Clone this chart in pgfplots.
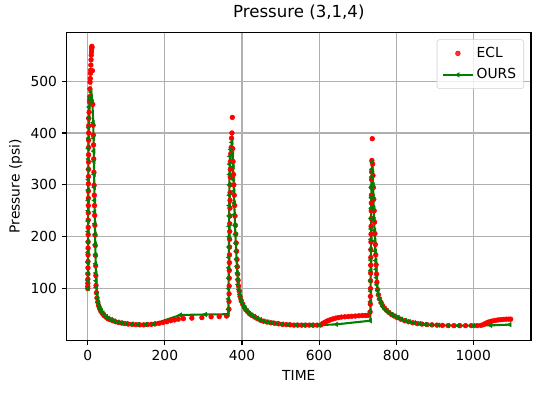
\documentclass[border=0pt]{standalone}
\usepackage{fontspec}
\setmainfont{DejaVu Sans}
\usepackage{pgfplots}
\pgfplotsset{compat=1.18}
\usepackage{pgfplotstable}

\pgfplotstableread{
t p
0.05 100
0.1 104
0.2 110
0.3 118
0.4 128
0.5 140
0.6 152
0.7 165
0.8 178
0.9 190
1.0 204
1.1 218
1.2 232
1.3 246
1.4 260
1.5 274
1.6 288
1.7 302
1.8 316
1.9 330
2.0 344
2.1 358
2.2 372
2.3 386
2.4 400
2.5 414
2.6 428
3.5 440
4.5 460
5 470
5.5 485
6 498
6.5 505
7 515
7.5 521
8 531
8.5 541
9 550
9.5 556
10 562
10.5 567
11 565
12 520
13 455
14 415
14.5 396
15 377
15.5 350
16 324
16.5 299
17 280
17.5 260
18 241
18.5 222
19 203
19.5 183
20 164
20.5 144
21 125
21.5 106
22.5 92
24 82
26 74
28 67
31 61
34 56
38 52
42 48
47 45
52 42
58 40
65 38
72 36
80 34.5
88 33.5
96 32.5
105 31.5
115 31
125 30.5
135 30
145 30
155 30.5
165 31
175 32
185 33
195 34.5
205 36
215 38
225 39.5
235 41
248 42
270 43
296 44
320 45.5
341 46
360 47
366.2 60
366.4 75
366.6 90
366.8 105
367.0 120
367.2 135
367.4 150
367.6 165
367.8 180
368.0 195
368.2 210
368.4 225
368.6 240
368.8 255
369.0 270
369.2 285
369.4 300
369.6 315
369.8 330
370 345
371 360
372 372
373 390
374 400
375 430
376 370
377 345
378 320
379 300
380 280
381 260
382 240
383 222
384 205
385 188
386 172
387 156
388 142
389 128
390 116
391 105
393 95
395 85
398 77
402 70
406 64
410 59
415 55
420 51
426 48
433 45
440 42
448 39
456 37
465 35.5
475 34
485 33
495 32
505 31
515 30.5
525 30
535 29.5
545 29.5
555 29.5
565 29.5
575 29.5
585 29.5
595 29.5
605 30
610 33
615 35
620 37
625 38.5
630 40
636 41.5
643 43
650 44
658 45
667 45.5
676 46
685 46.5
694 47
703 47.5
712 48
720 48
727 48.5
732.5 55
733.0 70
733.2 85
733.4 100
733.6 115
733.8 130
734.0 145
734.2 160
734.4 175
734.6 190
734.8 205
735.0 220
735.2 235
735.4 250
735.6 265
735.8 280
736.0 295
736.2 310
736.5 325
737 347
738 389
739 340
740 318
741 295
742 272
743 250
744 228
745 206
746 185
747 165
748 146
749 128
750 112
752 98
754 88
757 80
761 73
765 67
770 62
775 58
781 54
788 50
795 47
803 44
812 41
822 38
832 36
843 34
855 32.5
867 31.5
880 30.5
893 30
906 29.5
920 29
935 28.5
950 28.5
965 28.5
980 28.5
995 28.5
1010 28.5
1020 29
1026 30.5
1032 33
1038 35
1044 36.5
1050 37.5
1057 38.5
1064 39.5
1071 40
1078 40.5
1085 41
1092 41
1097 41
}\ecl

\pgfplotstableread{
t p
0.3 100
0.4 115
0.5 130
0.6 150
0.7 170
0.8 190
0.9 210
1.0 230
1.1 250
1.2 270
1.3 290
1.4 310
1.5 330
1.6 350
1.8 370
2.0 390
2.3 410
2.7 430
3.5 450
5 465
8 479
9 470
12 460
14 420
15 390
15.5 365
16 345
16.5 320
17 295
17.5 270
18 248
18.5 225
19 205
19.5 185
20 165
20.5 148
21 130
21.5 115
22 102
23.5 90
25 81
27 74
29 68
32 62
35 57
39 53
43 49
48 46
54 43
61 40
69 37.5
78 35.5
88 34
100 32.5
115 31.5
130 31
150 31
170 31.5
240 49
305 50
364 50.5
365 60
365.2 80
365.4 100
365.6 120
365.8 140
366 160
366.2 180
366.4 200
366.6 220
366.8 240
367 260
367.2 280
367.4 300
367.6 320
368 340
369 355
371 368
374 382
376 360
377 335
378 310
379 288
380 265
381 243
382 222
383 204
384 187
385 172
386 157
387 143
388 130
389 118
390 108
392 98
394 89
397 80
400 73
404 67
408 62
413 57
419 52
425 49
432 46
440 43
448 40
457 37.5
467 35.5
478 34
490 32.5
505 31.5
520 30.5
540 30
560 29.5
580 29.5
600 29.5
645 31
733 38
733.3 55
733.5 75
733.7 95
733.9 115
734.1 135
734.3 155
734.5 175
734.7 195
734.9 215
735.1 235
735.3 255
735.5 275
735.8 295
736.2 315
737 330
738 344
739 325
740 300
741 278
742 255
743 233
744 212
745 192
746 172
747 154
748 137
749 121
750 107
752 96
754 87
757 79
761 72
765 66
770 61
776 57
782 53
789 50
797 47
805 44
814 41
824 38.5
835 36
847 34
860 32.5
875 31
890 30
910 29.5
935 29
960 28.5
1000 28.5
1045 29
1095 30.5
}\ours

\definecolor{mplgreen}{HTML}{008000}
\definecolor{mplred}{HTML}{FF0000}
\definecolor{gridgray}{HTML}{B0B0B0}

\begin{document}
\begin{tikzpicture}
\begin{axis}[
  scale only axis,
  width=334.3bp, height=221.8bp,
  xmin=-54.75, xmax=1149.75, ymin=0, ymax=594,
  xtick={0,200,400,600,800,1000},
  ytick={100,200,300,400,500},
  grid=major,
  grid style={color=gridgray, line width=0.8bp},
  axis line style={line width=0.8bp, black},
  tick align=outside,
  major tick length=3.5bp,
  tick style={line width=0.8bp, black},
  xtick pos=bottom, ytick pos=left,
  /pgf/number format/assume math mode=true,
  /pgf/number format/1000 sep={},
  tick label style={font=\fontsize{10}{12}\selectfont},
  title={Pressure (3,1,4)},
  title style={font=\fontsize{12}{14}\selectfont, yshift=-0.5bp},
  xlabel={TIME},
  ylabel={Pressure (psi)},
  ylabel style={yshift=-1bp},
  label style={font=\fontsize{10}{12}\selectfont},
  legend cell align=left,
  legend style={at={(1,1)}, anchor=north east, xshift=-5bp, yshift=-5bp,
    draw=black!18, rounded corners=2bp, fill=white, fill opacity=0.8, text opacity=1,
    font=\fontsize{10}{12}\selectfont, row sep=2.6bp, inner xsep=3.5bp, inner ysep=3.5bp},
  legend image code/.code={\draw[mark repeat=2,mark phase=2] plot coordinates {(0bp,0bp)(10.8bp,0bp)(21.6bp,0bp)};},
]
\addplot[only marks, mark=*, mark size=1.7bp, color=mplred, mark options={draw=none, fill=mplred}] table[x=t, y=p] {\ecl};
\addlegendentry{ECL}
\addplot[color=mplgreen, line width=1.5bp, mark=triangle*, mark size=1.8bp, mark options={rotate=90, solid, fill=mplgreen, draw=mplgreen, line width=0.4bp}] table[x=t, y=p] {\ours};
\addlegendentry{OURS}
\end{axis}
\path (current axis.south west) ++(-48bp,-37.9bp) coordinate (BBA);
\path (current axis.north east) ++(6.5bp,23.3bp) coordinate (BBB);
\pgfresetboundingbox
\path[use as bounding box] (BBA) rectangle (BBB);
\end{tikzpicture}
\end{document}
